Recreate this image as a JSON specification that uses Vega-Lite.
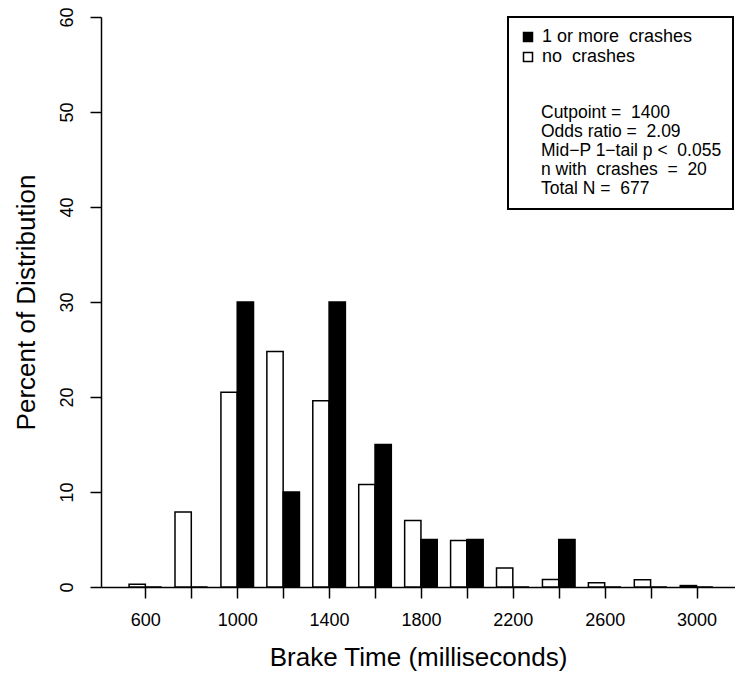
{
  "$schema": "https://vega.github.io/schema/vega-lite/v6.json",
  "width": 634,
  "height": 570,
  "autosize": {"type": "none"},
  "padding": {"left": 101, "top": 17, "right": 0, "bottom": 92},
  "background": "white",
  "config": {
    "view": {"stroke": null},
    "font": "Liberation Sans",
    "axis": {
      "grid": false,
      "domainColor": "black",
      "domainWidth": 1.5,
      "tickColor": "black",
      "tickWidth": 1.5,
      "tickSize": 11,
      "labelColor": "black",
      "labelFont": "Liberation Sans",
      "labelFontSize": 18,
      "labelFlush": false,
      "labelOverlap": false,
      "titleColor": "black",
      "titleFont": "Liberation Sans",
      "titleFontSize": 26,
      "titleFontWeight": "normal"
    }
  },
  "data": {
    "values": [
      {"time": 600, "group": "no crashes", "pct": 0.3},
      {"time": 800, "group": "no crashes", "pct": 7.9},
      {"time": 1000, "group": "no crashes", "pct": 20.5},
      {"time": 1200, "group": "no crashes", "pct": 24.8},
      {"time": 1400, "group": "no crashes", "pct": 19.6},
      {"time": 1600, "group": "no crashes", "pct": 10.8},
      {"time": 1800, "group": "no crashes", "pct": 7.0},
      {"time": 2000, "group": "no crashes", "pct": 4.9},
      {"time": 2200, "group": "no crashes", "pct": 2.0},
      {"time": 2400, "group": "no crashes", "pct": 0.8},
      {"time": 2600, "group": "no crashes", "pct": 0.45},
      {"time": 2800, "group": "no crashes", "pct": 0.77},
      {"time": 3000, "group": "no crashes", "pct": 0.15},
      {"time": 600, "group": "1 or more crashes", "pct": 0},
      {"time": 800, "group": "1 or more crashes", "pct": 0},
      {"time": 1000, "group": "1 or more crashes", "pct": 30},
      {"time": 1200, "group": "1 or more crashes", "pct": 10},
      {"time": 1400, "group": "1 or more crashes", "pct": 30},
      {"time": 1600, "group": "1 or more crashes", "pct": 15},
      {"time": 1800, "group": "1 or more crashes", "pct": 5},
      {"time": 2000, "group": "1 or more crashes", "pct": 5},
      {"time": 2200, "group": "1 or more crashes", "pct": 0},
      {"time": 2400, "group": "1 or more crashes", "pct": 5},
      {"time": 2600, "group": "1 or more crashes", "pct": 0},
      {"time": 2800, "group": "1 or more crashes", "pct": 0},
      {"time": 3000, "group": "1 or more crashes", "pct": 0}
    ]
  },
  "encoding": {
    "x": {
      "field": "time",
      "type": "quantitative",
      "scale": {"domain": [428.6, 3145.7], "nice": false, "zero": false},
      "axis": {
        "values": [600, 800, 1000, 1200, 1400, 1600, 1800, 2000, 2200, 2400, 2600, 2800, 3000],
        "format": "d",
        "labelExpr": "(datum.value - 600) % 400 == 0 ? datum.label : ''",
        "labelPadding": 13,
        "title": "Brake Time (milliseconds)",
        "titlePadding": 15
      }
    },
    "y": {
      "field": "pct",
      "type": "quantitative",
      "stack": null,
      "scale": {"domain": [0, 60], "nice": false},
      "axis": {
        "values": [0, 10, 20, 30, 40, 50, 60],
        "labelAngle": -90,
        "labelAlign": "center",
        "labelBaseline": "bottom",
        "labelPadding": 14,
        "title": "Percent of Distribution",
        "titlePadding": 19
      }
    },
    "fill": {
      "field": "group",
      "type": "nominal",
      "scale": {"domain": ["1 or more crashes", "no crashes"], "range": ["black", "white"]},
      "legend": {
        "orient": "none",
        "legendX": 407,
        "legendY": 0,
        "direction": "vertical",
        "strokeColor": "black",
        "fillColor": "white",
        "padding": 11,
        "symbolType": "square",
        "symbolSize": 81,
        "symbolStrokeColor": "black",
        "symbolStrokeWidth": 1.5,
        "labelFont": "Liberation Sans",
        "labelFontSize": 18,
        "labelColor": "black",
        "labelOffset": 5,
        "labelExpr": "replace(datum.label, ' crashes', '\u00a0 crashes')",
        "title": [
          "Cutpoint =\u00a0 1400",
          "Odds ratio =\u00a0 2.09",
          "Mid\u2212P 1\u2212tail p <\u00a0 0.055",
          "n with\u00a0 crashes\u00a0 =\u00a0 20",
          "Total N =\u00a0 677"
        ],
        "titleOrient": "bottom",
        "titleFont": "Liberation Sans",
        "titleFontSize": 17.5,
        "titleFontWeight": "normal",
        "titleColor": "black",
        "titleLineHeight": 19,
        "titleLimit": 400,
        "titlePadding": 38,
        "titleAnchor": "start",
        "titleAlign": "left",
        "encode": {
          "legend": {"update": {"strokeWidth": {"value": 2}}},
          "title": {"update": {"dx": {"value": 22}}}
        }
      }
    }
  },
  "layer": [
    {
      "transform": [{"filter": "datum.group == 'no crashes'"}],
      "mark": {"type": "bar", "orient": "vertical", "width": 16.3, "xOffset": -8.15, "stroke": "black", "strokeWidth": 1.5}
    },
    {
      "transform": [{"filter": "datum.group == '1 or more crashes'"}],
      "mark": {"type": "bar", "orient": "vertical", "width": 16.3, "xOffset": 8.15, "stroke": "black", "strokeWidth": 1.5}
    }
  ]
}
